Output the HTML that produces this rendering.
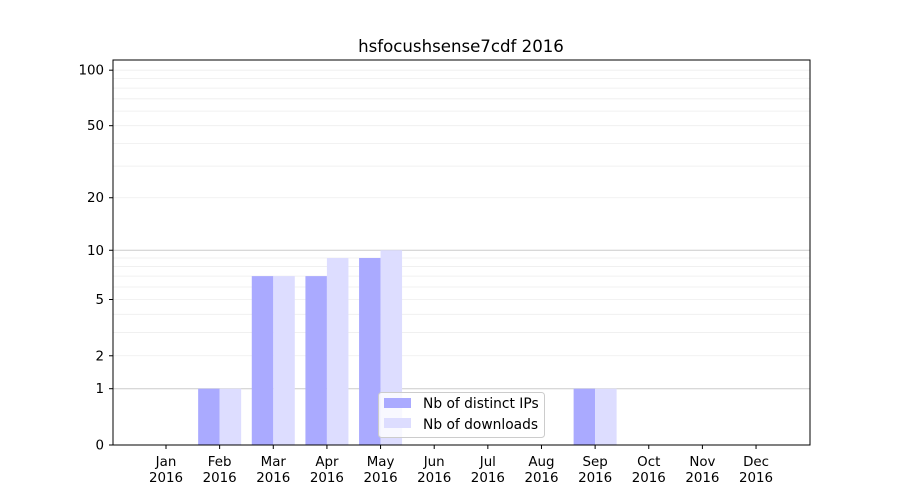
<!DOCTYPE html>
<html><head><meta charset="utf-8"><style>body{margin:0;background:#fff}svg{display:block}text{font-family:"DejaVu Sans","Liberation Sans",sans-serif;fill:#000}</style></head>
<body>
<svg width="900" height="500" viewBox="0 0 900 500" xmlns="http://www.w3.org/2000/svg">
<rect width="900" height="500" fill="#fff"/>
<g id="grid"></g>
<g id="bars"></g>
<rect x="113" y="60" width="697" height="385" fill="none" stroke="#000" stroke-width="1"/>
<g id="ticks" font-size="13.4"></g>
<text x="461" y="52" font-size="16.6" text-anchor="middle">hsfocushsense7cdf 2016</text>
<g>
<rect x="378.5" y="392.5" width="166" height="45" rx="3" fill="#fff" fill-opacity="0.8" stroke="#ccc"/>
<rect x="384" y="398" width="27" height="10" fill="#aaaaff"/>
<rect x="384" y="418" width="27" height="10" fill="#ddddff"/>
<text x="423" y="408" font-size="13.8">Nb of distinct IPs</text>
<text x="423" y="429" font-size="13.8">Nb of downloads</text>
</g>
</svg>
<script>
const ns="http://www.w3.org/2000/svg";
const Y=v=>445-187*Math.log10(1+v);
function el(p,t,a,txt){const e=document.createElementNS(ns,t);for(const k in a)e.setAttribute(k,a[k]);if(txt!==undefined)e.textContent=txt;document.getElementById(p).appendChild(e);return e;}
const minors=[2,3,4,5,6,7,8,9,20,30,40,50,60,70,80,90,100];
minors.forEach(v=>el("grid","line",{x1:113,x2:810,y1:Y(v),y2:Y(v),stroke:"#eeeeee","stroke-width":0.8}));
[1,10].forEach(v=>el("grid","line",{x1:113,x2:810,y1:Y(v),y2:Y(v),stroke:"#cccccc","stroke-width":1}));
const months=["Jan","Feb","Mar","Apr","May","Jun","Jul","Aug","Sep","Oct","Nov","Dec"];
const ip=[0,1,7,7,9,0,0,0,1,0,0,0], dl=[0,1,7,9,10,0,0,0,1,0,0,0];
months.forEach((m,i)=>{
 const c=166+i*53.64;
 if(ip[i])el("bars","rect",{x:c-21.5,y:Y(ip[i]),width:21.5,height:445-Y(ip[i]),fill:"#aaaaff"});
 if(dl[i])el("bars","rect",{x:c,y:Y(dl[i]),width:21.5,height:445-Y(dl[i]),fill:"#ddddff"});
 el("ticks","line",{x1:c,x2:c,y1:445,y2:449,stroke:"#000"});
 el("ticks","text",{x:c,y:466,"text-anchor":"middle"},m);
 el("ticks","text",{x:c,y:482,"text-anchor":"middle"},"2016");
});
[0,1,2,5,10,20,50,100].forEach(v=>{
 el("ticks","line",{x1:109,x2:113,y1:Y(v),y2:Y(v),stroke:"#000"});
 el("ticks","text",{x:104,y:Y(v)+4.5,"text-anchor":"end"},v);
});
</script>
</body></html>
